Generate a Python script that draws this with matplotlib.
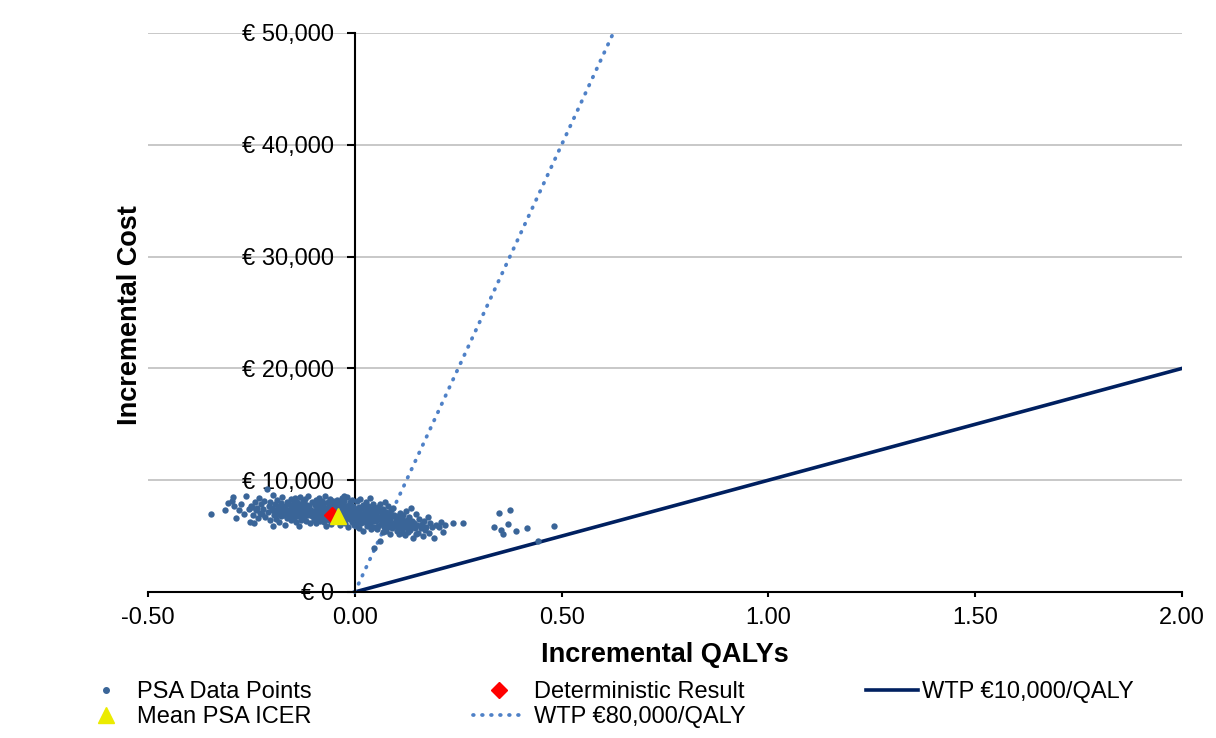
import matplotlib.pyplot as plt
from matplotlib.lines import Line2D
from matplotlib.ticker import FuncFormatter

plt.rcParams["font.family"] = ["Liberation Sans", "DejaVu Sans"]

# PSA simulation results: incremental QALYs and incremental cost (EUR)
psa_qaly = [
    -0.348, -0.314, -0.306, -0.295, -0.291, -0.298, -0.287, -0.281, -0.274, -0.268,
    -0.262, -0.257, -0.253, -0.251,
    -0.248, -0.246, -0.243, -0.241, -0.238, -0.236, -0.233, -0.231, -0.228, -0.226,
    -0.224, -0.221, -0.219, -0.216, -0.213, -0.211, -0.208, -0.206, -0.204, -0.201,
    -0.199, -0.197, -0.196, -0.194, -0.193, -0.191, -0.189, -0.188, -0.186, -0.184,
    -0.183, -0.181, -0.179, -0.178, -0.176, -0.174, -0.173, -0.171, -0.169, -0.168,
    -0.166, -0.164, -0.163, -0.161, -0.159, -0.158, -0.156, -0.155, -0.154, -0.153,
    -0.152, -0.151, -0.157, -0.150, -0.197,
    -0.149, -0.148, -0.147, -0.146, -0.145, -0.144, -0.143, -0.142, -0.141, -0.140,
    -0.139, -0.138, -0.137, -0.136, -0.135, -0.134, -0.133, -0.132, -0.131, -0.130,
    -0.129, -0.128, -0.127, -0.126, -0.125, -0.124, -0.123, -0.122, -0.121, -0.120,
    -0.119, -0.118, -0.117, -0.116, -0.115, -0.114, -0.113, -0.112, -0.111, -0.110,
    -0.108, -0.106, -0.104, -0.103, -0.101,
    -0.099, -0.098, -0.097, -0.096, -0.095, -0.094, -0.093, -0.092, -0.091, -0.090,
    -0.089, -0.088, -0.087, -0.086, -0.085, -0.084, -0.083, -0.082, -0.081, -0.080,
    -0.079, -0.078, -0.077, -0.076, -0.075, -0.074, -0.073, -0.072, -0.071, -0.070,
    -0.069, -0.068, -0.067, -0.066, -0.065, -0.064, -0.063, -0.062, -0.061, -0.060,
    -0.059, -0.058, -0.057, -0.056, -0.055, -0.054, -0.053, -0.052, -0.051, -0.050,
    -0.049, -0.048, -0.047, -0.046, -0.045, -0.043, -0.042, -0.041, -0.040, -0.039,
    -0.038, -0.037, -0.036, -0.035, -0.034, -0.033, -0.032, -0.031, -0.030, -0.029,
    -0.028, -0.027, -0.026, -0.025, -0.024, -0.023, -0.022, -0.021, -0.020, -0.019,
    -0.018, -0.017, -0.016, -0.015, -0.014, -0.013, -0.012, -0.011, -0.010, -0.009,
    -0.008, -0.007, -0.006, -0.005, -0.004, -0.003, -0.002, -0.001, -0.044, -0.026,
    0.001, 0.002, 0.003, 0.004, 0.005, 0.006, 0.008, 0.009, 0.010, 0.011,
    0.012, 0.013, 0.015, 0.016, 0.017, 0.018, 0.019, 0.020, 0.022, 0.023,
    0.024, 0.025, 0.026, 0.027, 0.029, 0.030, 0.031, 0.032, 0.033, 0.034,
    0.036, 0.037, 0.038, 0.039, 0.040, 0.041, 0.043, 0.044, 0.045, 0.046,
    0.047, 0.048, 0.049, 0.007, 0.046,
    0.051, 0.052, 0.053, 0.054, 0.055, 0.057, 0.058, 0.059, 0.060, 0.061,
    0.062, 0.063, 0.065, 0.066, 0.067, 0.068, 0.069, 0.070, 0.072, 0.073,
    0.074, 0.075, 0.076, 0.077, 0.079, 0.080, 0.081, 0.082, 0.083, 0.085,
    0.086, 0.087, 0.088, 0.090, 0.091, 0.092, 0.094, 0.095, 0.097, 0.099,
    0.101, 0.102, 0.104, 0.105, 0.107, 0.108, 0.110, 0.111, 0.113, 0.114,
    0.116, 0.117, 0.119, 0.120, 0.122, 0.123, 0.125, 0.126, 0.128, 0.130,
    0.131, 0.133, 0.135, 0.137, 0.139, 0.141, 0.143, 0.145, 0.147, 0.149,
    0.151, 0.154, 0.156, 0.159, 0.162, 0.164, 0.167, 0.170, 0.173, 0.176,
    0.179, 0.183, 0.187, 0.191, 0.196,
    0.204, 0.209, 0.213, 0.218, 0.237, 0.262,
    0.337, 0.349, 0.353, 0.358, 0.370, 0.375, 0.389, 0.416, 0.443, 0.482,
]
psa_cost = [
    6950, 7340, 7930, 8470, 7720, 8130, 6620, 7310, 7890, 6980,
    8590, 7450, 6250, 7700,
    7620, 6880, 6150, 8040, 7290, 7510, 6640, 8380, 7080, 7850,
    6950, 7420, 8110, 6720, 9210, 7190, 7660, 6430, 8020, 7340,
    7480, 8680, 6920, 7150, 7830, 6540, 7380, 8240, 7010, 7660,
    6280, 7290, 7920, 6760, 8460, 7120, 7540, 6890, 7730, 5980,
    7360, 8050, 6650, 7210, 7890, 6990, 7460, 8310, 6420, 7640,
    7070, 7820, 6830, 7350, 5870,
    7280, 6610, 7940, 7050, 8370, 6890, 7520, 6230, 7710, 7160,
    8050, 6780, 7390, 5890, 7620, 7010, 8520, 6940, 7270, 7830,
    6450, 7480, 7090, 8160, 6720, 7350, 7920, 6580, 7210, 8280,
    6990, 7570, 6320, 7740, 7130, 8610, 6860, 7440, 7020, 7680,
    6150, 7310, 8040, 6770, 7190,
    7120, 6480, 7760, 6930, 8210, 7340, 6210, 7580, 6870, 7990,
    6650, 7230, 8420, 6990, 7460, 6360, 7810, 7050, 6720, 8130,
    7290, 6540, 7640, 6910, 7950, 6270, 7380, 8560, 6810, 7170,
    5920, 7520, 6980, 8040, 6630, 7310, 7720, 6450, 7080, 8290,
    6760, 7410, 6090, 7860, 7000, 6570, 7630, 8180, 6850, 7240,
    6980, 7540, 6320, 7870, 6710, 8260, 7150, 6450, 7690, 6880,
    8030, 6590, 7320, 5980, 7480, 7010, 8390, 6740, 7210, 7760,
    6410, 7090, 8120, 6850, 7430, 6170, 7650, 6960, 8480, 7270,
    6620, 7380, 5810, 7820, 6930, 7140, 8050, 6530, 7590, 6790,
    7350, 8270, 6250, 7040, 7710, 6680, 7450, 5950, 7190, 8610,
    6720, 7380, 5940, 7050, 8120, 6410, 6890, 7610, 5690, 7240,
    6570, 8330, 6960, 6180, 7480, 6650, 7820, 5470, 7110, 6830,
    7560, 6290, 8010, 6740, 7290, 5860, 6990, 7700, 6460, 7170,
    8450, 6120, 6820, 7430, 5600, 7050, 6390, 7890, 6680, 7220,
    5780, 6940, 7510, 6260, 3940,
    6380, 7120, 5640, 6830, 7590, 5910, 6520, 7260, 4560, 6710,
    7890, 6090, 6440, 7030, 5380, 6960, 7410, 5770, 6250, 8020,
    6620, 5490, 7190, 6070, 6880, 7650, 5820, 6350, 7040, 5230,
    6560, 7350, 6010, 6790, 5690, 7480, 6190, 6920, 5940, 6470,
    6120, 5480, 6780, 5850, 6390, 5160, 7040, 6010, 5620, 6560,
    5290, 6890, 5940, 6230, 5070, 7260, 5760, 6470, 5390, 6050,
    6670, 5540, 7480, 5880, 6310, 4870, 6140, 5710, 6950, 5230,
    5980, 5320, 6540, 5690, 6120, 5010, 6380, 5540, 5850, 6750,
    5260, 6210, 5780, 4860, 6030,
    5800, 6300, 5360, 5950, 6170, 6170,
    5810, 7070, 5550, 5190, 6080, 7340, 5460, 5720, 4560, 5900,
]

det_qaly, det_cost = [-0.055], [6890]
mean_qaly, mean_cost = [-0.040], [6800]

# willingness-to-pay thresholds drawn across the plane
wtp10_qaly, wtp10_cost = [0.0, 2.0], [0, 20000]
wtp80_qaly, wtp80_cost = [0.0, 0.625], [0, 50000]

x_ticks = [-0.5, 0.0, 0.5, 1.0, 1.5, 2.0]
y_ticks = [0, 10000, 20000, 30000, 40000, 50000]

W, H = 1216, 738
fig = plt.figure(figsize=(W / 100, H / 100), dpi=100)
ax = fig.add_axes([148 / W, 1 - 592 / H, (1182 - 148) / W, (592 - 33) / H])

psa_col = "#3A6598"
navy = "#002060"
light = "#4F81C7"
dots = (0, (0.2, 2.2))

ax.plot(wtp10_qaly, wtp10_cost, color=navy, lw=2.6, zorder=2)
ax.plot(wtp80_qaly, wtp80_cost, color=light, lw=2.7, linestyle=dots,
        dash_capstyle="round", zorder=2, clip_on=False)
ax.scatter(psa_qaly, psa_cost, s=21, color=psa_col, linewidths=0, zorder=3)
ax.plot(det_qaly, det_cost, "D", color="#FF0000", markersize=8.5, zorder=4)
ax.plot(mean_qaly, mean_cost, "^", color="#EBEB00", markersize=11, zorder=5)

ax.set_xlim(-0.5, 2.0)
ax.set_ylim(0, 50000)
ax.set_xticks(x_ticks)
ax.set_yticks(y_ticks)
ax.xaxis.set_major_formatter(FuncFormatter(lambda v, p: f"{v:.2f}"))
ax.yaxis.set_major_formatter(FuncFormatter(lambda v, p: f"€ {v:,.0f}"))

ax.yaxis.grid(True, color="#BFBFBF", lw=1.2)
ax.set_axisbelow(True)
ax.spines["left"].set_position(("data", 0))
ax.spines["left"].set_linewidth(1.5)
ax.spines["bottom"].set_linewidth(1.5)
ax.spines["top"].set_visible(False)
ax.spines["right"].set_visible(False)
ax.tick_params(axis="y", direction="out", length=6, width=1.5, pad=9, labelsize=17)
ax.tick_params(axis="x", direction="out", length=3.6, width=1.5, pad=7, labelsize=17)

fig.text(130 / W, 1 - 315 / H, "Incremental Cost", rotation=90, ha="center",
         va="center", fontsize=19.5, fontweight="bold")
fig.text(665 / W, 1 - 655 / H, "Incremental QALYs", ha="center", va="center",
         fontsize=19.5, fontweight="bold")

# legend laid out in rows like the spreadsheet version
entries = [
    (Line2D([], [], marker="o", ls="none", color=psa_col, markersize=4),
     "PSA Data Points", 80, 692, 0.21),
    (Line2D([], [], marker="^", ls="none", color="#EBEB00", markersize=11),
     "Mean PSA ICER", 80, 717, 0.21),
    (Line2D([], [], marker="D", ls="none", color="#FF0000", markersize=8.5),
     "Deterministic Result", 473, 692, 0.38),
    (Line2D([], [], color=light, lw=2.7, linestyle=dots, dash_capstyle="round"),
     "WTP €80,000/QALY", 473, 717, 0.38),
    (Line2D([], [], color=navy, lw=2.6),
     "WTP €10,000/QALY", 866, 692, 0.17),
]
for handle, label, x, y, pad in entries:
    fig.legend([handle], [label], loc="center left", bbox_to_anchor=(x / W, 1 - y / H),
               frameon=False, borderpad=0, borderaxespad=0, fontsize=17,
               handlelength=2.2, handletextpad=pad)

fig.savefig("out.png", dpi=100)
